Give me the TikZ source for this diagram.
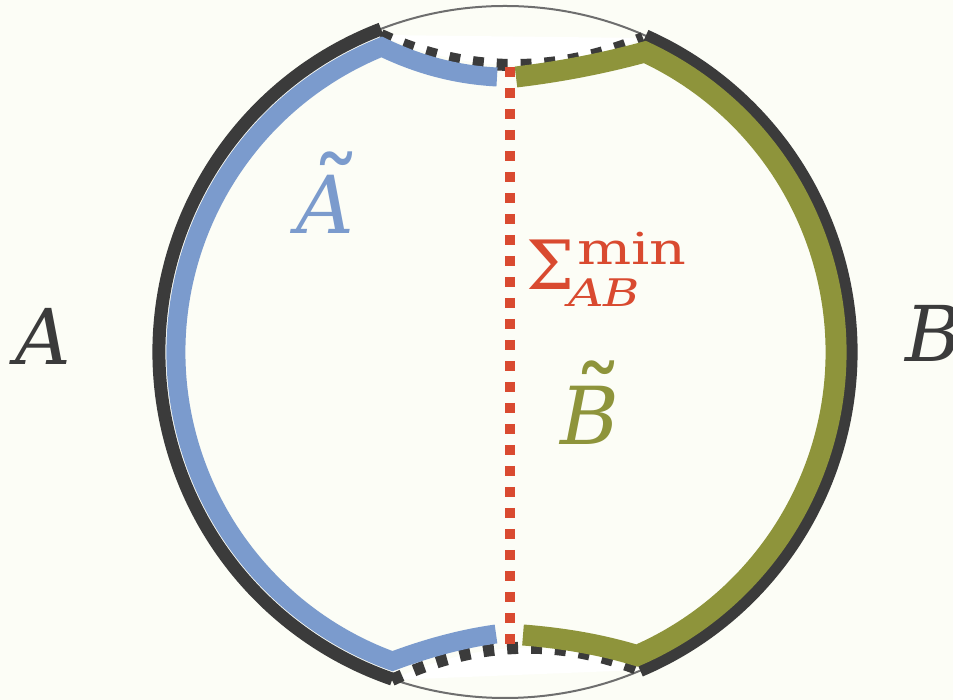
\documentclass[tikz,border=0pt]{standalone}
\usepackage{fontspec}
\setmainfont{DejaVu Serif}
\usetikzlibrary{calc}
\definecolor{bgc}{HTML}{FCFDF6}
\definecolor{darkc}{HTML}{3B3B3B}
\definecolor{bluec}{HTML}{7B9BCD}
\definecolor{greenc}{HTML}{8E943B}
\definecolor{redc}{HTML}{D94A30}
\definecolor{thinc}{HTML}{6E6E6E}
\newcommand{\tildeover}[3]{\makebox[0pt][l]{\hspace*{#1}\raisebox{#2}{\fontsize{100}{100}\selectfont ˜}}\fontsize{80}{80}\selectfont\itshape #3}
\begin{document}
\begin{tikzpicture}[x=1pt,y=1pt,line cap=butt,
  lbl/.style={anchor=base west,inner sep=0pt,outer sep=0pt},
  darkarc/.style={draw=darkc,line width=13pt},
  dotcurve/.style={draw=darkc,line width=12pt,dash pattern=on 11pt off 13pt},
  band/.style={line width=19pt,line join=miter}]
\useasboundingbox (0,0) rectangle (953,700);
\fill[bgc] (0,0) rectangle (953,700);
\coordinate (C) at (505,348);
\draw[thinc,line width=2pt] (C) circle[radius=346];
\coordinate (P1) at (381,665);
\coordinate (P2) at (643,662);
\coordinate (P3) at (392,20);
\coordinate (P4) at (640,30);
\fill[white] (P1) .. controls (467,626) and (555,625) .. (P2) -- cycle;
\fill[white] (P3) .. controls (475,59) and (557,63) .. (P4) -- cycle;
% dark boundary arcs
\path[darkarc] ($(C)+(111:346)$) arc[start angle=111,end angle=251,radius=346];
\path[darkarc] ($(C)+(-67:346)$) arc[start angle=-67,end angle=66,radius=346];
% dotted curves
\path[dotcurve] (P1) .. controls (467,626) and (555,625) .. (P2);
\path[dotcurve] (P3) .. controls (475,59) and (557,63) .. (P4);
% blue band
\coordinate (bt) at (497,623);
\coordinate (bb) at (496,66);
\draw[band,bluec] (bt) .. controls (459,625) and (421,634) .. ($(C)+(112:329)$)
  arc[start angle=112,end angle=250,radius=329]
  .. controls (425,51) and (460,61) .. (bb);
% green band
\coordinate (gt) at (516,623);
\coordinate (gb) at (523,65);
\draw[band,greenc,line width=21pt] (gt) .. controls (558,628) and (601,636) .. ($(C)+(65:331)$)
  arc[start angle=65,end angle=-66.5,radius=331]
  .. controls (599,56) and (561,62) .. (gb);
% red minimal surface
\coordinate (rt) at (510,633);
\coordinate (rb) at (510,53);
\draw[redc,line width=10pt,dash pattern=on 10pt off 11pt] (rt) -- (rb);
% labels
\node[lbl,text=darkc] (lA) at (15,335) {\fontsize{77}{77}\selectfont\itshape A};
\node[lbl,text=darkc] (lB) at (905,338) {\fontsize{77}{77}\selectfont\itshape B};
\node[lbl,text=bluec] (lAt) at (296,466) {\tildeover{15pt}{4pt}{A}};
\node[lbl,text=greenc] (lBt) at (560,255) {\tildeover{13pt}{6pt}{B}};
\node[lbl,text=redc] (sig) at (526,410) {\fontsize{68}{68}\selectfont Σ};
\node[lbl,text=redc] (smin) at (577,435) {\scalebox{1.3}[1]{\fontsize{44}{44}\selectfont min}};
\node[lbl,text=redc] (sab) at (568,393) {\scalebox{1.3}[1]{\fontsize{38}{38}\selectfont\itshape AB}};
\end{tikzpicture}
\end{document}
